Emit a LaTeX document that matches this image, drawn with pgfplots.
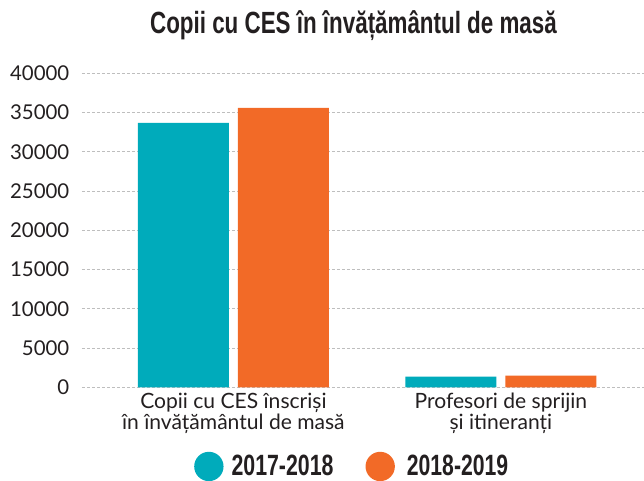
\documentclass[border=0pt]{standalone}
\usepackage{graphicx}
\usepackage{fontspec}
\setmainfont{Lato}
\newfontfamily\condfont{Liberation Sans}
\usepackage{pgfplots}
\pgfplotsset{compat=1.18}

\definecolor{cteal}{HTML}{00ABBB}
\definecolor{corange}{HTML}{F26A27}
\definecolor{ink}{HTML}{231F20}
\definecolor{gridc}{HTML}{BEBEBE}

\pgfplotsset{
  dot legend/.style={legend image code/.code={\fill[##1] (11pt,0) circle (11pt);}},
}

\begin{document}
\begin{tikzpicture}
% page frame: 644 x 480 px, axis corner at (82, 387) px
\path[use as bounding box] (-61.5pt,-69.5pt) rectangle (421.5pt,290.5pt);
\begin{axis}[
  at={(0,0)}, anchor=south west,
  scale only axis,
  width=421.5pt, height=235.5pt,
  xmin=-0.566, xmax=1.535,
  ymin=0, ymax=40000,
  ybar=6.75pt, bar width=68.25pt,
  axis line style={draw=none},
  major tick length=0pt,
  xtick={0,1},
  xticklabels={{Copii cu CES înscriși\\în învățământul de masă},{Profesori de sprijin\\și itineranți}},
  xticklabel style={align=center, font=\fontsize{15.8}{15.5}\selectfont, text=ink, yshift=-1pt},
  ytick={0,5000,...,40000},
  scaled y ticks=false,
  /pgf/number format/assume math mode=true,
  /pgf/number format/1000 sep={},
  yticklabel style={font=\fontsize{15.3}{18}\selectfont, text=ink, xshift=-6pt},
  ymajorgrids,
  grid style={gridc, line width=0.75pt, dash pattern=on 2.25pt off 1.5pt},
  legend columns=-1,
  legend style={at={(0.4814,-0.252)}, anchor=center, draw=none, fill=none,
    font=\fontsize{22}{24}\selectfont\condfont\bfseries, text=ink,
    nodes={inner ysep=0pt},
    /tikz/column 1/.style={column sep=4pt},
    /tikz/column 2/.style={column sep=22pt},
    /tikz/column 3/.style={column sep=7pt}},
]
\addplot[fill=cteal, draw=none, dot legend]
  coordinates {(0,33700) (1,1380)};
\addplot[fill=corange, draw=none, dot legend]
  coordinates {(0,35600) (1,1480)};
\legend{{\resizebox{76.5pt}{\height}{2017-2018}},{\resizebox{76pt}{\height}{2018-2019}}}
\end{axis}
\node[text=ink, font=\fontsize{23}{24}\selectfont\condfont\bfseries]
  at (203.6pt,271pt) {\resizebox{305pt}{\height}{Copii cu CES în învățământul de masă}};
\end{tikzpicture}
\end{document}
